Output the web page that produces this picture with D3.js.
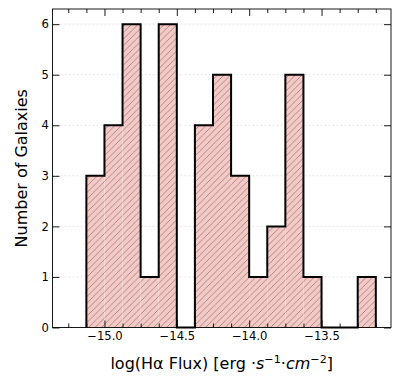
<!doctype html>
<html lang="en">
<head>
    <meta charset="UTF-8">
    <title>Halpha flux histogram</title>
    <script src="https://cdn.jsdelivr.net/npm/d3@7"></script>
    <style>
        body{ margin:0; background:#fff; }
        svg text{ font-family:"DejaVu Sans", sans-serif; fill:#000; }
        .grid line{ stroke:#d5d5d5; stroke-width:0.6px; stroke-dasharray:2,2; }
        .tick text{ font-size:11.6px; }
    </style>
</head>
<body>
<svg width="393" height="377"></svg>
<script>
    // histogram bins (edges) and counts
    const binEdges = [-15.125,-15.0,-14.875,-14.75,-14.625,-14.5,-14.375,-14.25,-14.125,-14.0,-13.875,-13.75,-13.625,-13.5,-13.375,-13.25,-13.125];
    const counts   = [3,4,6,1,6,0,4,5,3,1,2,5,1,0,0,1];
    const xTicks = [-15.0,-14.5,-14.0,-13.5];
    const xMinorTicks = [-15.25,-15.125,-14.875,-14.75,-14.625,-14.375,-14.25,-14.125,-13.875,-13.75,-13.625,-13.375,-13.25,-13.125];
    const yTicks = [0,1,2,3,4,5,6];

    const svg = d3.select("svg");
    const m = {left:52.5, right:391, top:9, bottom:327.5};

    let x = d3.scaleLinear().domain([-15.359,-13.02]).range([m.left,m.right]);
    let y = d3.scaleLinear().domain([0,6.3]).range([m.bottom,m.top]);

    // hatch pattern
    let defs = svg.append("defs");
    let pat = defs.append("pattern")
        .attr("id","hatch").attr("patternUnits","userSpaceOnUse")
        .attr("width",6.5).attr("height",6.5);
    pat.append("rect").attr("width",6.5).attr("height",6.5).attr("fill","#f5c9c5");
    pat.append("path")
        .attr("d","M0,6.5 L6.5,0 M-1,1 L1,-1 M5.5,7.5 L7.5,5.5")
        .attr("stroke","#8a7474").attr("stroke-width",0.7);

    // grid
    svg.append("g").attr("class","grid")
        .selectAll("line").data(yTicks.filter(d=>d>0)).enter()
        .append("line")
        .attr("x1",m.left).attr("x2",m.right)
        .attr("y1",d=>y(d)).attr("y2",d=>y(d));

    // bars (fill)
    let bins = counts.map((c,i)=>({x0:binEdges[i], x1:binEdges[i+1], c:c}));
    svg.append("g").selectAll("rect").data(bins.filter(d=>d.c>0)).enter()
        .append("rect")
        .attr("x",d=>x(d.x0)).attr("width",d=>x(d.x1)-x(d.x0))
        .attr("y",d=>y(d.c)).attr("height",d=>y(0)-y(d.c))
        .attr("fill","url(#hatch)");

    // step outline
    let pts = [[binEdges[0],0]];
    bins.forEach(d=>{ pts.push([d.x0,d.c]); pts.push([d.x1,d.c]); });
    pts.push([binEdges[binEdges.length-1],0]);
    svg.append("path")
        .attr("d",d3.line().x(d=>x(d[0])).y(d=>y(d[1]))(pts))
        .attr("fill","none").attr("stroke","#000").attr("stroke-width",2)
        .attr("stroke-linejoin","miter");

    // axes
    const tickFmt = d=>d3.format(".1f")(d).replace("-","\u2212");
    svg.append("g").attr("transform",`translate(0,${m.bottom})`)
        .call(d3.axisBottom(x).tickValues(xTicks).tickFormat(tickFmt).tickSizeInner(-7).tickSizeOuter(0).tickPadding(4.5))
        .call(g=>g.select(".domain").remove());
    svg.append("g").attr("transform",`translate(0,${m.bottom})`)
        .call(d3.axisBottom(x).tickValues(xMinorTicks).tickFormat("").tickSizeInner(-4).tickSizeOuter(0))
        .call(g=>g.select(".domain").remove());
    svg.append("g").attr("transform",`translate(0,${m.top})`)
        .call(d3.axisTop(x).tickValues(xTicks).tickFormat("").tickSizeInner(-7).tickSizeOuter(0))
        .call(g=>g.select(".domain").remove());
    svg.append("g").attr("transform",`translate(0,${m.top})`)
        .call(d3.axisTop(x).tickValues(xMinorTicks).tickFormat("").tickSizeInner(-4).tickSizeOuter(0))
        .call(g=>g.select(".domain").remove());
    svg.append("g").attr("transform",`translate(${m.left},0)`)
        .call(d3.axisLeft(y).tickValues(yTicks).tickFormat(d3.format("d")).tickSizeInner(-7).tickSizeOuter(0).tickPadding(3.5))
        .call(g=>g.select(".domain").remove());
    svg.append("g").attr("transform",`translate(${m.right},0)`)
        .call(d3.axisRight(y).tickValues(yTicks).tickFormat("").tickSizeInner(-7).tickSizeOuter(0))
        .call(g=>g.select(".domain").remove());
    svg.selectAll(".tick line").attr("stroke","#000").attr("stroke-width",0.9);

    // frame
    svg.append("rect")
        .attr("x",m.left).attr("y",m.top)
        .attr("width",m.right-m.left).attr("height",m.bottom-m.top)
        .attr("fill","none").attr("stroke","#000").attr("stroke-width",0.9);

    // labels
    svg.append("text")
        .attr("transform",`translate(27,${(m.top+m.bottom)/2}) rotate(-90)`)
        .attr("text-anchor","middle").style("font-size","16px")
        .text("Number of Galaxies");

    let xl = svg.append("text")
        .attr("x",(m.left+m.right)/2).attr("y",369)
        .attr("text-anchor","middle").style("font-size","16px");
    xl.append("tspan").text("log(H\u03b1 Flux) [erg \u00b7");
    xl.append("tspan").style("font-style","italic").text("s");
    xl.append("tspan").attr("dy",-6.5).style("font-size","11.2px").text("\u22121");
    xl.append("tspan").attr("dy",6.5).text("\u00b7");
    xl.append("tspan").style("font-style","italic").text("cm");
    xl.append("tspan").attr("dy",-6.5).style("font-size","11.2px").text("\u22122");
    xl.append("tspan").attr("dy",6.5).text("]");
</script>
</body>
</html>
